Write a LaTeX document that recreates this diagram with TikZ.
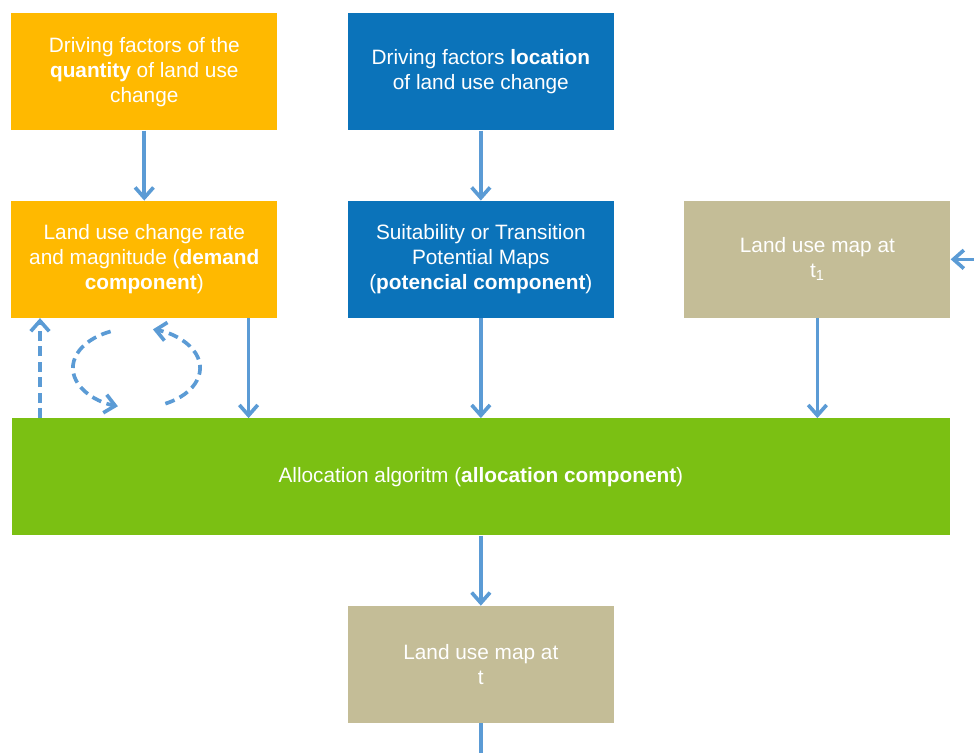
\documentclass[tikz,border=0pt]{standalone}
\usepackage{fontspec}
\setmainfont{Liberation Sans}
\usetikzlibrary{positioning,arrows.meta}

\definecolor{quantityorange}{HTML}{FFB900}
\definecolor{locationblue}{HTML}{0B73BA}
\definecolor{mapkhaki}{HTML}{C4BD97}
\definecolor{allocgreen}{HTML}{7BC013}
\definecolor{flowblue}{HTML}{5B9BD5}

\begin{document}
\begin{tikzpicture}[
every node/.style={font=\fontsize{14.8}{17.8}\selectfont},
box/.style={
	% The shape:
	rectangle,
	% The size:
	minimum width=6.65cm,minimum height=2.925cm,
	% The text:
	inner sep=0pt,text=white,align=center},
driver/.style={box,fill=quantityorange},
locator/.style={box,fill=locationblue},
landmap/.style={box,fill=mapkhaki},
allocator/.style={box,fill=allocgreen,minimum width=23.45cm},
flow/.style={line width=2.6pt,draw=flowblue,
	-{Straight Barb[length=2.6mm,width=4.6mm]}},
feedback/.style={flow,dash pattern=on 7pt off 4pt},
node distance=1.75cm and 1.75cm]

\useasboundingbox (0,0) rectangle (24.35,-18.825);

% first row: the driving factors
\node (A) [driver,anchor=north west] at (0.275,-0.325) {Driving factors of the\\
	\textbf{quantity} of land use\\ change};
\node (B) [locator,right = of A] {Driving factors \textbf{location}\\
	of land use change};

% second row: the three components
\node (C) [driver,below = of A] {Land use change rate\\
	and magnitude (\textbf{demand}\\ \textbf{component})};
\node (D) [locator,below = of B] {Suitability or Transition\\
	Potential Maps\\ (\textbf{potencial component})};
\node (E) [landmap,right = of D] {Land use map at\\ t\textsubscript{1}};

% allocation and result
\node (F) [allocator,below = 2.5cm of D] {Allocation algoritm (\textbf{allocation component})};
\node (G) [landmap,below = of F] {Land use map at\\ t};

\draw[flow] (A) -- (C);
\draw[flow] (B) -- (D);
\draw[flow] ([xshift=-0.725cm]C.south east) -- ([xshift=-0.725cm]C.south east |- F.north);
\draw[flow] (D) -- (F);
\draw[flow] (E) -- (E |- F.north);
\draw[flow] (F) -- (G);

% loose ends at the border
\coordinate (prev) at ([xshift=0.625cm]E.east);
\coordinate (next) at ([yshift=-0.75cm]G.south);
\draw[flow] (prev) -- (E);
\draw[flow,-] (G) -- (next);

% feedback between demand and allocation
\draw[feedback] ([xshift=0.725cm]C.south west |- F.north) -- ([xshift=0.725cm]C.south west);
\coordinate (loop) at (3.4125,-9.2);
\draw[feedback] ([shift={(114:1.59cm and 1cm)}]loop)
	arc[start angle=114,end angle=253,x radius=1.59cm,y radius=1cm];
\draw[feedback] ([shift={(-63:1.59cm and 1cm)}]loop)
	arc[start angle=-63,end angle=75,x radius=1.59cm,y radius=1cm];

\end{tikzpicture}
\end{document}
